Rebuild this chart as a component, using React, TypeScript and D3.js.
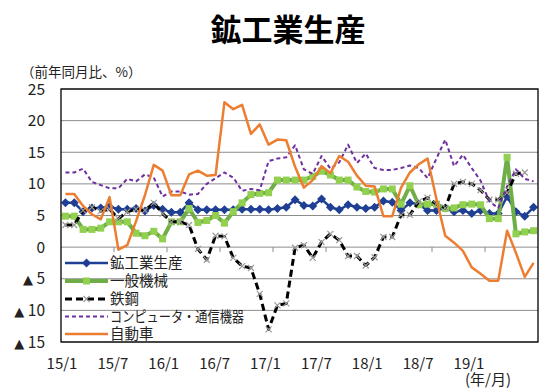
import React from "react";
import * as d3 from "d3";

// 2015/1 .. 2019/6, monthly, 前年同月比(%)
const months: string[] = [];
for (let y = 15; y <= 19; y++) {
  for (let m = 1; m <= 12; m++) {
    if (y === 19 && m > 6) break;
    months.push(`${y}/${m}`);
  }
}

const mining = [
  7.0, 7.0, 5.6, 6.2, 6.2, 6.4, 6.0, 6.0, 6.1, 5.7, 6.6, 6.0,
  5.5, 5.5, 7.0, 5.9, 5.9, 5.9, 5.9, 5.9, 6.0, 6.0, 6.0, 5.9,
  6.1, 6.3, 7.5, 6.6, 6.5, 7.6, 6.3, 5.9, 6.7, 6.3, 6.1, 6.3,
  7.3, 7.1, 5.8, 7.0, 6.8, 5.8, 5.8, 6.2, 5.6, 5.8, 5.3, 5.8,
  5.3, 5.3, 8.0, 5.6, 4.9, 6.3,
];
const machinery = [
  4.9, 4.9, 2.8, 2.8, 3.0, 4.0, 4.0, 4.0, 2.2, 1.8, 2.5, 1.3,
  4.0, 4.0, 6.1, 3.9, 4.2, 5.0, 3.8, 5.6, 7.0, 8.3, 8.5, 8.6,
  10.6, 10.6, 10.6, 10.6, 11.2, 12.0, 11.4, 10.6, 10.6, 9.5, 8.8, 8.7,
  9.2, 9.2, 6.8, 9.7, 6.7, 6.8, 6.8, 6.1, 6.2, 6.7, 6.8, 6.7,
  4.5, 4.5, 14.2, 2.1, 2.4, 2.6,
];
const steel: (number | null)[] = [
  3.5, 3.5, 5.8, 6.3, 5.7, 6.0, 4.5, 5.6, 6.0, 5.8, 7.0, 5.3,
  4.0, 4.0, 3.5, -0.3, -2.0, 1.8, 1.7, -1.7, -3.0, -3.3, -7.4, -13.0,
  -9.2, -8.9, -0.1, 0.3, -1.7, 0.8, 2.1, 1.1, -1.4, -1.4, -2.9, -1.6,
  1.6, 1.6, 5.1, 5.1, 7.2, 7.8, 6.8, 6.2, 10.0, 10.3, 10.0, 9.0,
  7.5, 7.5, 8.6, 11.6, 11.8, null,
];
const computers = [
  11.8, 11.8, 12.4, 10.3, 9.8, 9.3, 9.3, 10.8, 10.4, 11.5, 11.0, 8.0,
  8.8, 8.8, 8.3, 8.4, 10.0, 10.9, 11.8, 11.0, 8.9, 9.2, 9.0, 13.6,
  14.0, 14.2, 16.1, 12.3, 11.6, 14.4, 12.4, 13.4, 16.2, 13.3, 14.8, 12.5,
  12.2, 12.2, 12.5, 12.9, 12.5, 10.9, 14.0, 17.0, 12.8, 14.6, 12.5, 10.5,
  7.2, 6.2, 9.6, 12.3, 10.8, 10.4,
];
const autos = [
  8.4, 8.4, 6.5, 5.2, 4.4, 7.9, -0.4, 0.3, 4.1, 8.2, 13.0, 12.1,
  8.2, 8.2, 11.5, 12.1, 11.3, 11.4, 22.9, 21.8, 22.5, 17.9, 19.4, 16.2,
  17.0, 16.9, 12.7, 9.4, 10.6, 12.8, 11.7, 14.4, 13.5, 11.3, 9.7, 9.6,
  4.9, 4.9, 9.4, 11.8, 13.1, 14.0, 7.6, 1.8, 0.7, -0.6, -3.2, -4.2,
  -5.3, -5.3, 2.6, -0.9, -4.7, -2.5,
];

const seriesNames = ["鉱工業生産", "一般機械", "鉄鋼", "コンピュータ・通信機器", "自動車"];
const xTickLabels = ["15/1", "15/7", "16/1", "16/7", "17/1", "17/7", "18/1", "18/7", "19/1"];
const yTicks = [25, 20, 15, 10, 5, 0, -5, -10, -15];

const FONT = "'Noto Sans CJK JP', 'Noto Sans', sans-serif";

type Style = {
  color: string;
  width: number;
  dash?: string;
  marker?: "diamond" | "square" | "cross";
  markerColor?: string;
};

const styles: Style[] = [
  { color: "#1f3f94", width: 2.5, marker: "diamond", markerColor: "#1f3f94" },
  { color: "#6fae46", width: 4, marker: "square", markerColor: "#92d050" },
  { color: "#000000", width: 3, dash: "7,4", marker: "cross", markerColor: "#9a9a9a" },
  { color: "#7030a0", width: 2, dash: "4,3" },
  { color: "#ed7d31", width: 2.5 },
];

const Marker: React.FC<{ kind?: string; color?: string; x: number; y: number }> = ({ kind, color, x, y }) => {
  if (kind === "diamond")
    return <path d={`M${x},${y - 4.5}L${x + 4.5},${y}L${x},${y + 4.5}L${x - 4.5},${y}Z`} fill={color} />;
  if (kind === "square") return <rect x={x - 3.5} y={y - 3.5} width={7} height={7} fill={color} />;
  if (kind === "cross")
    return (
      <path
        d={`M${x - 3},${y - 3}L${x + 3},${y + 3}M${x - 3},${y + 3}L${x + 3},${y - 3}`}
        stroke={color}
        strokeWidth={1.2}
      />
    );
  return null;
};

const App: React.FC = () => {
  const W = 545;
  const H = 391;
  const plot = { left: 61, right: 538, top: 89, bottom: 342 };

  const x = d3.scaleBand<string>().domain(months).range([plot.left, plot.right]);
  const cx = (i: number) => (x(months[i]) as number) + x.bandwidth() / 2;
  const y = d3.scaleLinear().domain([-15, 25]).range([plot.bottom, plot.top]);
  const xLab = d3.scalePoint<string>().domain(xTickLabels).range([62, 469]);

  const data = [mining, machinery, steel, computers, autos];
  const line = d3
    .line<number | null>()
    .defined((d) => d !== null)
    .x((_, i) => cx(i))
    .y((d) => y(d as number));

  const legendY = [263, 281, 299, 316.5, 334];

  return (
    <svg width={W} height={H} style={{ position: "absolute", left: 0, top: 0, background: "#fff" }} fontFamily={FONT}>
      <text x={288} y={41} textAnchor="middle" fontSize={31} fontWeight="bold" fill="#000">
        鉱工業生産
      </text>
      <text x={21} y={77} fontSize={13.5} fill="#222">
        （前年同月比、%）
      </text>

      {/* gridlines */}
      {yTicks.map((t) => (
        <line key={t} x1={plot.left} x2={plot.right} y1={y(t)} y2={y(t)} stroke="#8c8c8c" strokeWidth={1} />
      ))}
      {/* small ticks on zero line every 6 months */}
      {months.map((m, i) =>
        i % 6 === 0 && i > 0 ? (
          <line key={m} x1={x(m)} x2={x(m)} y1={y(0)} y2={y(0) + 5} stroke="#8c8c8c" />
        ) : null
      )}

      {/* y labels */}
      {yTicks.map((t) => (
        <text key={t} x={45} y={y(t)} dy="0.36em" textAnchor="end" fontSize={15.5} fill="#222">
          {t < 0 ? (
            <>
              <tspan fontFamily="'DejaVu Sans'" fontSize={13}>▲</tspan>
              <tspan> {-t}</tspan>
            </>
          ) : (
            t
          )}
        </text>
      ))}

      {/* x labels */}
      {xTickLabels.map((l) => (
        <text key={l} x={xLab(l)} y={364} dy="0.36em" textAnchor="middle" fontSize={15} fill="#222">
          {l}
        </text>
      ))}
      <text x={511} y={380} dy="0.36em" textAnchor="end" fontSize={15} fill="#222">
        (年/月)
      </text>

      {/* series */}
      {data.map((vals, s) => (
        <g key={s}>
          <path
            d={line(vals) as string}
            fill="none"
            stroke={styles[s].color}
            strokeWidth={styles[s].width}
            strokeDasharray={styles[s].dash}
            strokeLinejoin="round"
          />
          {vals.map((v, i) =>
            v === null ? null : (
              <Marker key={i} kind={styles[s].marker} color={styles[s].markerColor} x={cx(i)} y={y(v)} />
            )
          )}
        </g>
      ))}

      {/* legend */}
      {seriesNames.map((n, s) => (
        <g key={n}>
          <line
            x1={65}
            x2={108}
            y1={legendY[s]}
            y2={legendY[s]}
            stroke={styles[s].color}
            strokeWidth={styles[s].width}
            strokeDasharray={styles[s].dash}
          />
          <Marker kind={styles[s].marker} color={styles[s].markerColor} x={86.5} y={legendY[s]} />
          <text
            x={110}
            y={legendY[s]}
            dy="0.36em"
            fontSize={14.5}
            fill="#222"
            textLength={n.length > 6 ? 134 : undefined}
            lengthAdjust="spacingAndGlyphs"
          >
            {n}
          </text>
        </g>
      ))}

      {/* frame */}
      <rect
        x={plot.left}
        y={plot.top}
        width={plot.right - plot.left}
        height={plot.bottom - plot.top}
        fill="none"
        stroke="#000"
        strokeWidth={1.3}
      />
    </svg>
  );
};

export default App;
